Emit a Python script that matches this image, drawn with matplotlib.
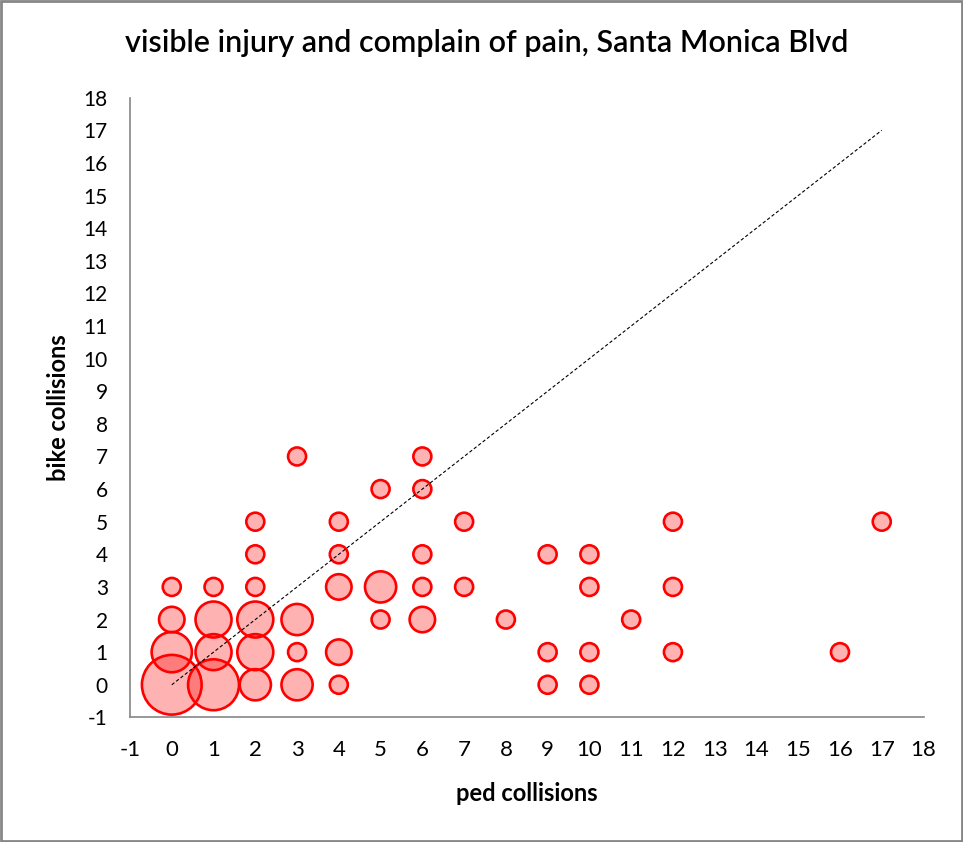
import matplotlib.pyplot as plt
import numpy as np

# ped collisions (x), bike collisions (y), number of locations (bubble size)
ped = [0, 1, 0, 1, 2, 2, 1, 2, 0, 3, 3, 3, 0, 1, 2, 4, 4, 4, 2, 2, 3, 4, 4,
       5, 5, 5, 6, 6, 6, 6, 6, 7, 7, 8, 9, 9, 9, 10, 10, 10, 10, 11,
       12, 12, 12, 16, 17]
bike = [0, 0, 1, 1, 0, 1, 2, 2, 2, 0, 1, 2, 3, 3, 3, 0, 1, 3, 4, 5, 7, 4, 5,
        6, 3, 2, 7, 6, 4, 3, 2, 5, 3, 2, 4, 1, 0, 4, 3, 1, 0, 2,
        5, 3, 1, 1, 5]
count = [11, 8, 5, 4, 3, 4, 4, 4, 2, 3, 1, 3, 1, 1, 1, 1, 2, 2, 1, 1, 1, 1, 1,
         1, 3, 1, 1, 1, 1, 1, 2, 1, 1, 1, 1, 1, 1, 1, 1, 1, 1, 1,
         1, 1, 1, 1, 1]

ticks = list(range(-1, 19))

plt.rcParams['font.family'] = ['Lato', 'DejaVu Sans']
plt.rcParams['axes.unicode_minus'] = False

fig = plt.figure(figsize=(9.63, 8.42), dpi=100)
ax = fig.add_axes([0.135, 0.148, 0.824, 0.736])

# bubble area proportional to count, like excel
s = (18 * 0.72) ** 2 * np.array(count)
ax.scatter(ped, bike, s=s, facecolor=(1, 0, 0, 0.3), edgecolor='red',
           linewidth=1.9, zorder=2)

ax.plot([0, 17], [0, 17], linestyle=(0, (3, 2)), color='black',
        linewidth=0.8, zorder=3)

ax.set_xlim(-1, 18)
ax.set_ylim(-1, 18)
ax.set_xticks(ticks)
ax.set_yticks(ticks)
ax.tick_params(length=0)
ax.tick_params(axis='x', labelsize=16, pad=16)
ax.tick_params(axis='y', labelsize=15, pad=16)
for lab in ax.get_xticklabels():
    lab.set_family(['Liberation Sans Narrow', 'Lato'])
for sp in ['top', 'right']:
    ax.spines[sp].set_visible(False)
for sp in ['left', 'bottom']:
    ax.spines[sp].set_color('#868686')
    ax.spines[sp].set_linewidth(1.2)

ax.set_xlabel('ped collisions', fontsize=17, fontweight='bold', labelpad=16)
ax.set_ylabel('bike collisions', fontsize=17, fontweight='bold', labelpad=10)
fig.suptitle('visible injury and complain of pain, Santa Monica Blvd',
             fontsize=22, fontweight='semibold', y=0.965, x=0.505)

fig.patches.append(plt.Rectangle((0.001, 0.001), 0.998, 0.998,
                                 transform=fig.transFigure, fill=False,
                                 edgecolor='#868686', linewidth=2))

fig.savefig('out.png', dpi=100)
